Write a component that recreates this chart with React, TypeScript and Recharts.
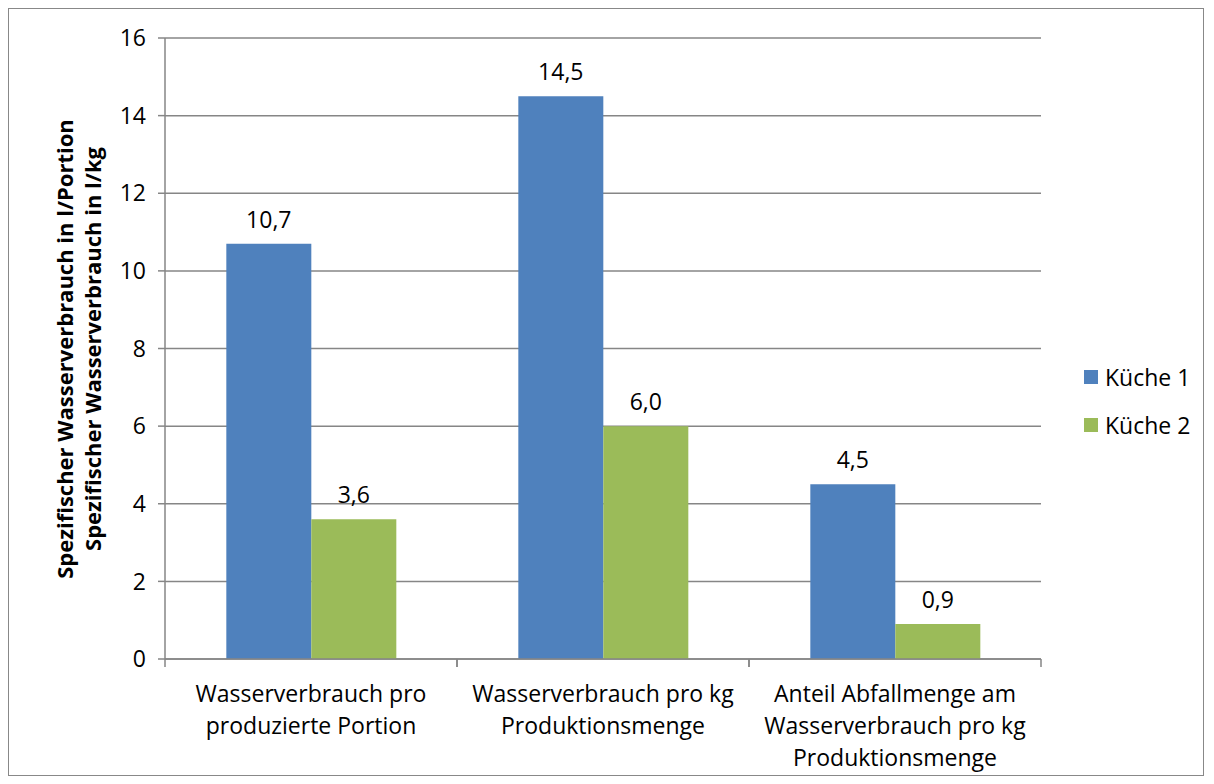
import { BarChart, Bar, XAxis, YAxis, CartesianGrid, Legend, LabelList } from 'recharts';

const categories = [
  'Wasserverbrauch pro\nproduzierte Portion',
  'Wasserverbrauch pro kg\nProduktionsmenge',
  'Anteil Abfallmenge am\nWasserverbrauch pro kg\nProduktionsmenge',
];
const kueche1 = [10.7, 14.5, 4.5];
const kueche2 = [3.6, 6.0, 0.9];
const yTicks = [0, 2, 4, 6, 8, 10, 12, 14, 16];
const yTitle = [
  'Spezifischer Wasserverbrauch in l/Portion',
  'Spezifischer Wasserverbrauch in l/kg',
];

const FONT = '"Open Sans", sans-serif';
const FS = 23;
const GRID = '#868686';
const BLUE = '#4F81BD';
const GREEN = '#9BBB59';

const data = categories.map((name, i) => ({
  name,
  k1: kueche1[i],
  k2: kueche2[i],
}));

const fmt = (v: number) => v.toFixed(1).replace('.', ',');

// category label plus tick marks at the band edges
function CategoryTick(props: any) {
  const { x, y, payload } = props;
  const half = payload.offset ?? 0;
  const lines = String(payload.value).split('\n');
  return (
    <g>
      <line x1={x - half} y1={y} x2={x - half} y2={y + 8} stroke={GRID} strokeWidth={1.5} />
      <line x1={x + half} y1={y} x2={x + half} y2={y + 8} stroke={GRID} strokeWidth={1.5} />
      <text x={x} y={y + 43} textAnchor="middle" fill="#000" fontSize={FS} fontFamily={FONT}>
        {lines.map((l, i) => (
          <tspan key={i} x={x} dy={i === 0 ? 0 : 32}>{l}</tspan>
        ))}
      </text>
    </g>
  );
}

function LegendBox({ payload }: any) {
  return (
    <div style={{ fontFamily: FONT, fontSize: FS }}>
      {(payload || []).map((p: any) => (
        <div key={p.value} style={{ display: 'flex', alignItems: 'center', height: 48 }}>
          <span style={{ width: 14, height: 14, background: p.color, marginRight: 7 }} />
          <span>{p.value}</span>
        </div>
      ))}
    </div>
  );
}

export default function App() {
  return (
    <div style={{ position: 'relative', width: 1194, height: 766, border: '1px solid #888', background: '#fff' }}>
      <BarChart
        width={1194}
        height={766}
        data={data}
        margin={{ top: 29, right: 42, bottom: 0, left: 106 }}
        barCategoryGap="21%"
        barGap={0}
      >
        <CartesianGrid vertical={false} stroke={GRID} strokeWidth={1.5} />
        <XAxis
          dataKey="name"
          height={116}
          axisLine={{ stroke: GRID, strokeWidth: 1.5 }}
          tickLine={false}
          tickSize={0}
          tickMargin={0}
          tick={<CategoryTick />}
          interval={0}
        />
        <YAxis
          width={50}
          domain={[0, 16]}
          ticks={yTicks}
          interval={0}
          axisLine={{ stroke: GRID, strokeWidth: 1.5 }}
          tickLine={{ stroke: GRID, strokeWidth: 1.5 }}
          tickSize={7}
          tickMargin={12}
          tick={{ fill: '#000', fontSize: FS, fontFamily: FONT }}
        />
        <Legend
          layout="horizontal"
          verticalAlign="middle"
          align="right"
          content={<LegendBox />}
          wrapperStyle={{ left: 1075, top: 344, width: 120 }}
        />
        <Bar dataKey="k1" name="Küche 1" fill={BLUE} isAnimationActive={false}>
          <LabelList dataKey="k1" position="top" offset={16} formatter={(v: any) => fmt(Number(v))} fill="#000" fontSize={FS} fontFamily={FONT} />
        </Bar>
        <Bar dataKey="k2" name="Küche 2" fill={GREEN} isAnimationActive={false}>
          <LabelList dataKey="k2" position="top" offset={16} formatter={(v: any) => fmt(Number(v))} fill="#000" fontSize={FS} fontFamily={FONT} />
        </Bar>
      </BarChart>
      {/* y-axis title, two lines rotated */}
      <div style={{ position: 'absolute', left: 69, top: 340, width: 0, height: 0 }}>
        <div
          style={{
            position: 'absolute',
            transform: 'translate(-50%, -50%) rotate(-90deg)',
            whiteSpace: 'nowrap',
            textAlign: 'center',
            fontFamily: FONT,
            fontWeight: 'bold',
            fontSize: 22,
            lineHeight: '28px',
          }}
        >
          {yTitle.map((t) => (
            <div key={t}>{t}</div>
          ))}
        </div>
      </div>
    </div>
  );
}
